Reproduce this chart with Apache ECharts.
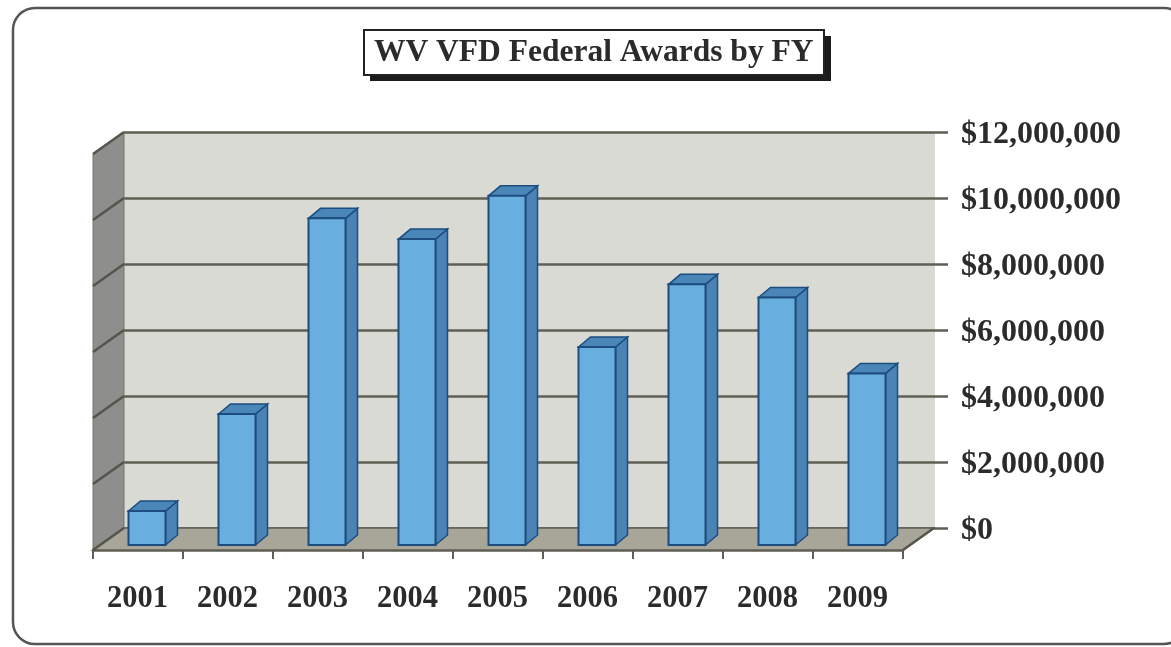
<!DOCTYPE html>
<html><head><meta charset="utf-8">
<style>html,body{margin:0;padding:0;background:#fff}#c{width:1171px;height:647px}</style>
<script src="https://cdn.jsdelivr.net/npm/echarts@6/dist/echarts.min.js"></script>
</head><body><div id="c"></div>
<script>
const titleText = 'WV VFD Federal Awards by FY';
const years = ['2001','2002','2003','2004','2005','2006','2007','2008','2009'];
const awards = [1030000,3970000,9900000,9270000,10580000,6000000,7900000,7500000,5200000];
const yTicks = [0,2000000,4000000,6000000,8000000,10000000,12000000];
const yTickLabels = ['$0','$2,000,000','$4,000,000','$6,000,000','$8,000,000','$10,000,000','$12,000,000'];

const FONT = '"Liberation Serif","Times New Roman",serif';
const DEPTH = [31,-22];      // wall depth projection
const BAR_SHIFT = [9,-5];    // bars stand inside the floor
const BAR_DEPTH = [12,-10];
const BAR_W = 37;
const LINE = '#5f5f55';

const chart = echarts.init(document.getElementById('c'), null, {renderer:'canvas'});

function wallRender(params, api){
  const b0 = api.coord([0,0]);
  const t0 = api.coord([0,12000000]);
  const bandW = api.size([1,0])[0];
  const left = b0[0]-bandW/2;
  const right = left + bandW*years.length;
  const by = b0[1], ty = t0[1];
  return {type:'group',children:[
    {type:'polygon',shape:{points:[[left,by],[left,ty],[left+DEPTH[0],ty+DEPTH[1]],[left+DEPTH[0],by+DEPTH[1]]]},
     style:{fill:'#8e8e8c',stroke:'#77776f',lineWidth:1}},
    {type:'polygon',shape:{points:[[left,by],[right,by],[right+DEPTH[0],by+DEPTH[1]],[left+DEPTH[0],by+DEPTH[1]]]},
     style:{fill:'#a8a699',stroke:LINE,lineWidth:1.5}}
  ]};
}
function wallLineRender(params, api){
  const p = api.coord([0,api.value(1)]);
  const bandW = api.size([1,0])[0];
  const left = p[0]-bandW/2;
  return {type:'line',shape:{x1:left,y1:p[1],x2:left+DEPTH[0],y2:p[1]+DEPTH[1]},
    style:{stroke:'#55554c',lineWidth:2.5}};
}
function sideFloorLine(params, api){
  const p = api.coord([years.length-1,0]);
  const bandW = api.size([1,0])[0];
  const right = p[0]+bandW/2;
  return {type:'line',shape:{x1:right,y1:p[1],x2:right+DEPTH[0],y2:p[1]+DEPTH[1]},
    style:{stroke:'#55554c',lineWidth:2.5}};
}
function barRender(params, api){
  const top = api.coord([api.value(0),api.value(1)]);
  const base = api.coord([api.value(0),0]);
  const x0 = top[0]+BAR_SHIFT[0]-BAR_W/2, x1 = x0+BAR_W;
  const yt = top[1]+BAR_SHIFT[1], yb = base[1]+BAR_SHIFT[1];
  const dx = BAR_DEPTH[0], dy = BAR_DEPTH[1];
  const edge = '#1d4c7e';
  return {type:'group',children:[
    {type:'polygon',shape:{points:[[x1,yt],[x1+dx,yt+dy],[x1+dx,yb+dy],[x1,yb]]},
     style:{fill:'#4a83b4',stroke:edge,lineWidth:1.5}},
    {type:'polygon',shape:{points:[[x0,yt],[x0+dx,yt+dy],[x1+dx,yt+dy],[x1,yt]]},
     style:{fill:'#4a86b8',stroke:edge,lineWidth:1.5}},
    {type:'rect',shape:{x:x0,y:yt,width:BAR_W,height:yb-yt},
     style:{fill:'#68afdf',stroke:edge,lineWidth:2}}
  ]};
}

chart.setOption({
  animation:false,
  backgroundColor:'#ffffff',
  title:{
    text:titleText,left:364,top:30,z:8,
    padding:[7,11,6,10],
    backgroundColor:'#ffffff',borderColor:'#222',borderWidth:2,
    textStyle:{fontFamily:FONT,fontWeight:'bold',fontSize:31.5,color:'#2b2b2b'}
  },
  graphic:[
    {type:'rect',silent:true,z:-10,
     shape:{x:13,y:8,width:1173,height:636,r:22},
     style:{fill:'#fff',stroke:'#555',lineWidth:2.5}},
    {type:'rect',silent:true,z:-5,
     shape:{x:370,y:36,width:461,height:45},
     style:{fill:'#1c1c1c'}}
  ],
  grid:[
    {left:124,top:132,width:811,height:396,show:true,backgroundColor:'#dadad5',borderWidth:0},
    {left:93,top:154,width:810,height:396,show:false}
  ],
  xAxis:[
    {gridIndex:0,type:'category',data:years,show:false},
    {gridIndex:1,type:'category',data:years,
      axisLine:{show:true,lineStyle:{color:LINE,width:2.5}},
      axisTick:{show:true,length:9,lineStyle:{color:LINE,width:2}},
      axisLabel:{margin:34,padding:[0,1,0,0],fontFamily:FONT,fontWeight:'bold',fontSize:30.5,color:'#2b2b2b'}}
  ],
  yAxis:[
    {gridIndex:0,type:'value',position:'right',min:0,max:12000000,interval:2000000,
      axisLine:{show:false},
      axisTick:{show:true,length:13,lineStyle:{color:LINE,width:2.5}},
      splitLine:{show:true,lineStyle:{color:LINE,width:2.5}},
      axisLabel:{margin:26,fontFamily:FONT,fontWeight:'bold',fontSize:32,color:'#2b2b2b',
        formatter:v=>'{a|'+yTickLabels[yTicks.indexOf(v)]+'}',
        rich:{a:{fontFamily:FONT,fontWeight:'bold',fontSize:32,color:'#2b2b2b',padding:[6,0,0,0]}}}},
    {gridIndex:1,type:'value',min:0,max:12000000,interval:2000000,show:false}
  ],
  series:[
    {name:'walls',type:'custom',xAxisIndex:1,yAxisIndex:1,z:1,silent:true,renderItem:wallRender,data:[[0,0]],clip:false},
    {name:'wallLines',type:'custom',xAxisIndex:1,yAxisIndex:1,z:2,silent:true,renderItem:wallLineRender,
      data:yTicks.map(v=>[0,v]),clip:false},
    {name:'floorEnd',type:'custom',xAxisIndex:1,yAxisIndex:1,z:2,silent:true,renderItem:sideFloorLine,data:[[0,0]],clip:false},
    {name:'Awards',type:'custom',xAxisIndex:1,yAxisIndex:1,z:3,renderItem:barRender,
      data:awards.map((v,i)=>[i,v]),clip:false}
  ]
});
</script></body></html>
